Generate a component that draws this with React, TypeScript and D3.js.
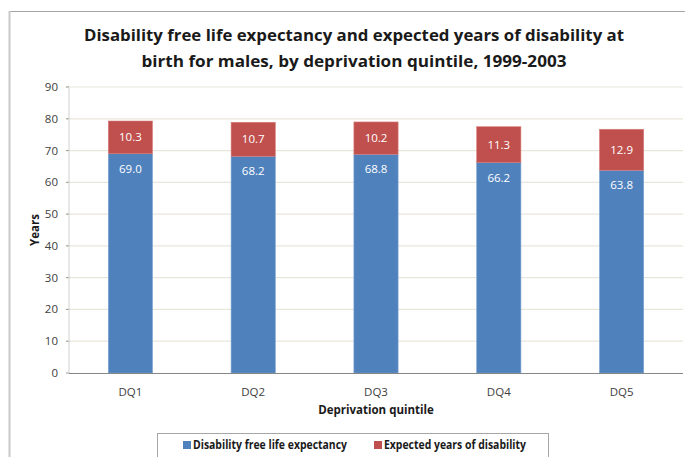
import React from "react";
import * as d3 from "d3";

const categories = ["DQ1", "DQ2", "DQ3", "DQ4", "DQ5"];
const disabilityFree = [69.0, 68.2, 68.8, 66.2, 63.8];
const disabilityYears = [10.3, 10.7, 10.2, 11.3, 12.9];
const yTicks = [0, 10, 20, 30, 40, 50, 60, 70, 80, 90];
const seriesNames = ["Disability free life expectancy", "Expected years of disability"];
const colors = ["#4f81bd", "#c0504d"];
const titleLines = [
  "Disability free life expectancy and expected years of disability at",
  "birth for males, by deprivation quintile, 1999-2003",
];

const FONT = "'Open Sans', 'Noto Sans', sans-serif";

export default function App() {
  const x = d3.scaleBand<string>().domain(categories).range([69, 683]).paddingInner(0.64).paddingOuter(0.32);
  const y = d3.scaleLinear().domain([0, 90]).range([373, 87]);
  const bw = x.bandwidth();

  return (
    <svg width={685} height={457} style={{ position: "absolute", left: 0, top: 0, background: "#fff" }} fontFamily={FONT}>
      <rect x={9.5} y={11.5} width={700} height={480} fill="#fff" stroke="#a6a6a6" strokeWidth={1} />
      <line x1={9.5} x2={9.5} y1={11} y2={457} stroke="#c8c8c8" strokeWidth={2} />
      {titleLines.map((t, i) => (
        <text key={i} x={354} y={41 + i * 26} textAnchor="middle" fontSize={16.5} fontWeight="bold" fill="#1a1a1a"
          textLength={i === 0 ? 540 : 425} lengthAdjust="spacingAndGlyphs">
          {t}
        </text>
      ))}
      {yTicks.map((t) => (
        <g key={t}>
          {t > 0 && <line x1={66} x2={683} y1={y(t)} y2={y(t)} stroke="#e8e6da" strokeWidth={1.2} />}
          <line x1={66} x2={69} y1={y(t)} y2={y(t)} stroke="#9a9a9a" />
          <text x={58} y={y(t)} dy="0.35em" textAnchor="end" fontSize={11.5} fill="#404040">{t}</text>
        </g>
      ))}
      <line x1={69} x2={69} y1={87} y2={373} stroke="#d0d0d0" />
      {categories.map((c, i) => {
        const x0 = x(c) as number;
        const b = disabilityFree[i];
        const r = disabilityYears[i];
        return (
          <g key={c}>
            <rect x={x0} y={y(b)} width={bw} height={y(0) - y(b)} fill={colors[0]} stroke="#7ea3d3" strokeWidth={0.6} />
            <rect x={x0} y={y(b + r)} width={bw} height={y(b) - y(b + r)} fill={colors[1]} stroke="#d77f7d" strokeWidth={0.6} />
            <text x={x0 + bw / 2} y={y(b) + 15} dy="0.35em" textAnchor="middle" fontSize={11.5} fill="#fff">{b.toFixed(1)}</text>
            <text x={x0 + bw / 2} y={(y(b) + y(b + r)) / 2} dy="0.35em" textAnchor="middle" fontSize={11.5} fill="#fff">{r.toFixed(1)}</text>
            <text x={x0 + bw / 2} y={392} dy="0.35em" textAnchor="middle" fontSize={11.5} fill="#404040">{c}</text>
          </g>
        );
      })}
      <line x1={69} x2={683} y1={373.5} y2={373.5} stroke="#868686" strokeWidth={1.2} />
      <text x={376} y={410} dy="0.35em" textAnchor="middle" fontSize={11.5} fontWeight="bold" fill="#1a1a1a">Deprivation quintile</text>
      <text transform={`translate(35,230) rotate(-90)`} textAnchor="middle" dy="0.35em" fontSize={11.5} fontWeight="bold" fill="#1a1a1a">Years</text>
      <rect x={157.5} y={433.5} width={391} height={30} fill="#fff" stroke="#a6a6a6" />
      {seriesNames.map((s, i) => {
        const lx = i === 0 ? 183 : 374;
        return (
          <g key={s}>
            <rect x={lx} y={441} width={8} height={8} fill={colors[i]} />
            <text x={lx + 10} y={445} dy="0.35em" fontSize={11.5} fontWeight="bold" fill="#1a1a1a"
              textLength={i === 0 ? 154 : 142} lengthAdjust="spacingAndGlyphs">{s}</text>
          </g>
        );
      })}
    </svg>
  );
}
